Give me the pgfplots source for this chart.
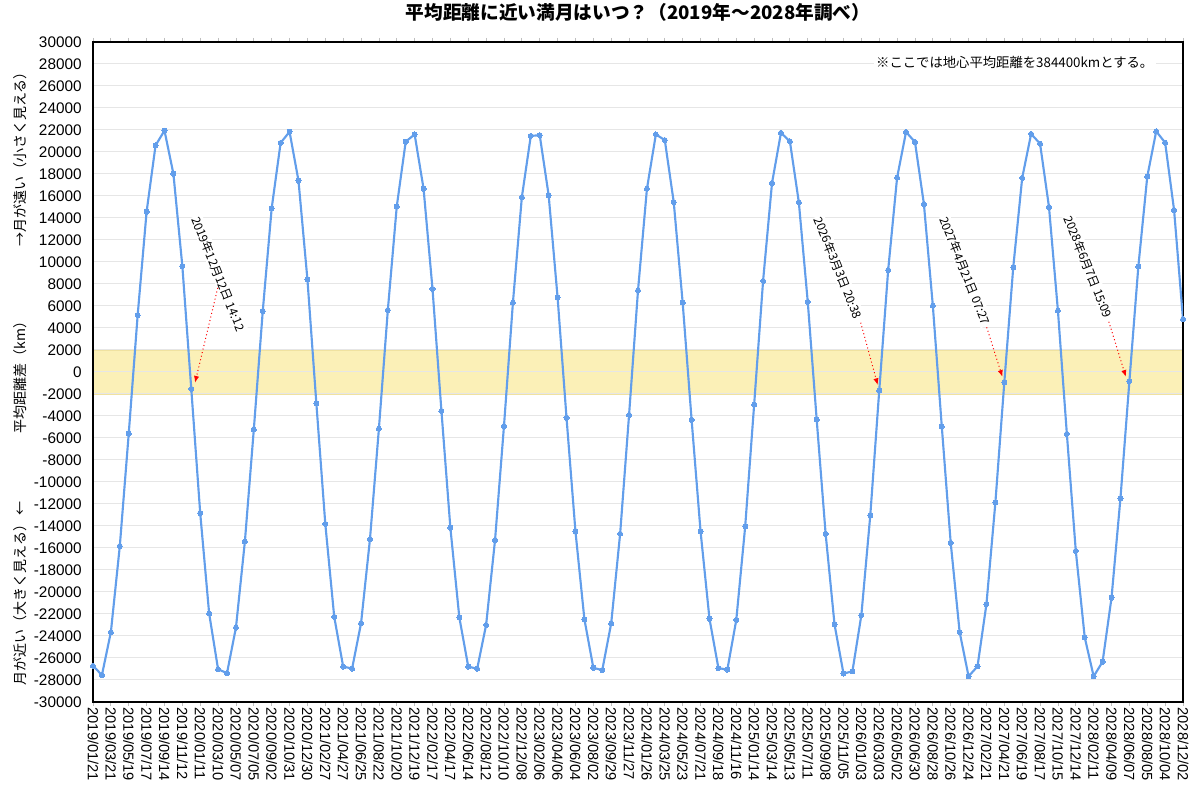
\documentclass[border=0pt]{standalone}
\usepackage{fontspec}
\setmainfont{Liberation Sans}
\newfontfamily\cjk{Noto Sans CJK JP}
\usepackage{pgfplots}
\pgfplotsset{compat=1.18}
\usetikzlibrary{arrows.meta}
\definecolor{moonblue}{RGB}{98,158,235}
\definecolor{bandyellow}{RGB}{251,240,183}
\definecolor{bandedge}{RGB}{240,226,160}
\definecolor{gridgray}{RGB}{230,230,230}

% full moons 2019/01/21 .. 2028/12/02, difference from 384400 km (km)
\pgfplotstableread{
i  d
0   -26710
1   -27550
2   -23650
3   -15830
4   -5600
5   5180
6   14570
7   20590
8   21950
9   18020
10  9630
11  -1530
12  -12830
13  -21950
14  -27030
15  -27370
16  -23230
17  -15410
18  -5220
19  5530
20  14890
21  20830
22  21840
23  17390
24  8420
25  -2850
26  -13810
27  -22260
28  -26780
29  -26960
30  -22850
31  -15200
32  -5150
33  5630
34  15060
35  20940
36  21600
37  16660
38  7550
39  -3550
40  -14160
41  -22300
42  -26780
43  -26980
44  -22990
45  -15270
46  -4900
47  6300
48  15900
49  21460
50  21530
51  16070
52  6780
53  -4170
54  -14500
55  -22470
56  -26890
57  -27100
58  -22850
59  -14710
60  -3900
61  7410
62  16660
63  21600
64  21080
65  15440
66  6300
67  -4350
68  -14470
69  -22430
70  -26920
71  -27060
72  -22540
73  -14020
74  -2960
75  8280
76  17180
77  21740
78  20970
79  15440
80  6380
81  -4330
82  -14710
83  -22970
84  -27420
85  -27210
86  -22100
87  -13020
88  -1700
89  9270
90  17670
91  21820
92  20910
93  15270
94  6030
95  -4940
96  -15530
97  -23640
98  -27670
99  -26760
100 -21100
101 -11870
102 -940
103 9520
104 17640
105 21640
106 20760
107 15000
108 5580
109 -5630
110 -16260
111 -24120
112 -27670
113 -26340
114 -20520
115 -11470
116 -830
117 9580
118 17760
119 21880
120 20850
121 14730
122 4790
}\moondata

\begin{document}
\begin{tikzpicture}
\begin{axis}[
  name=ax,
  set layers,
  scale only axis,
  width=817.5pt, height=495pt,
  xmin=0, xmax=122,
  ymin=-30000, ymax=30000,
  ytick={-30000,-28000,...,30000},
  scaled y ticks=false,
  /pgf/number format/1000 sep={},
  /pgf/number format/assume math mode=true,
  ymajorgrids,
  major grid style={gridgray, line width=0.75pt},
  ytick style={draw=none},
  xtick={0,2,...,122},
  xticklabels={2019/01/21,2019/03/21,2019/05/19,2019/07/17,2019/09/14,2019/11/12,
    2020/01/11,2020/03/10,2020/05/07,2020/07/05,2020/09/02,2020/10/31,2020/12/30,
    2021/02/27,2021/04/27,2021/06/25,2021/08/22,2021/10/20,2021/12/19,
    2022/02/17,2022/04/17,2022/06/14,2022/08/12,2022/10/10,2022/12/08,
    2023/02/06,2023/04/06,2023/06/04,2023/08/02,2023/09/29,2023/11/27,
    2024/01/26,2024/03/25,2024/05/23,2024/07/21,2024/09/18,2024/11/16,
    2025/01/14,2025/03/14,2025/05/13,2025/07/11,2025/09/08,2025/11/05,
    2026/01/03,2026/03/03,2026/05/02,2026/06/30,2026/08/28,2026/10/26,2026/12/24,
    2027/02/21,2027/04/21,2027/06/19,2027/08/17,2027/10/15,2027/12/14,
    2028/02/11,2028/04/09,2028/06/07,2028/08/05,2028/10/04,2028/12/02},
  xtick style={black!25, line width=0.6pt},
  tick align=outside,
  major tick length=3pt,
  xticklabel style={rotate=-90, anchor=west, inner sep=1pt,
    font=\fontsize{11}{11}\selectfont},
  yticklabel style={font=\fontsize{11.5}{11.5}\selectfont, xshift=-2pt},
  axis line style={black, line width=1pt},
  title={\cjk\bfseries 平均距離に近い満月はいつ？（2019年〜2028年調べ）},
  title style={at={(0.5,1)}, anchor=south, inner sep=0pt, yshift=9pt,
    font=\fontsize{14}{14}\selectfont},
  ylabel={\makebox[465pt]{月が近い（大きく見える）\,←\hfill 平均距離差（km）\hfill →月が遠い（小さく見える）}},
  ylabel style={at={(axis description cs:-0.067,0.495)}, anchor=center,
    font=\cjk\fontsize{10.5}{10.5}\selectfont},
]
  % band of +-2000 km round the mean distance
  \addplot[draw=bandedge, line width=0.5pt, fill=bandyellow, on layer=axis background, forget plot]
    coordinates {(0,-2000) (122,-2000) (122,2000) (0,2000)} -- cycle;

  \addplot[moonblue, line width=1.6pt, mark=*, mark size=1.9pt,
    mark options={fill=moonblue, draw=moonblue, line width=0pt}]
    table[x=i, y=d] {\moondata};

  % callouts
  \tikzset{callout/.style={rotate=-68, fill=white, inner sep=1pt,
      font=\cjk\fontsize{9}{9}\selectfont},
    calloutarrow/.style={red, dotted, line width=0.75pt, -{Latex[length=5pt,width=4pt]}}}
  \node[callout] at (axis cs:14.05,8910) {2019年12月12日 14:12};
  \draw[calloutarrow] (axis cs:13.96,7640) -- (axis cs:11.42,-970);
  \node[callout] at (axis cs:83.4,9450) {2026年3月3日 20:38};
  \draw[calloutarrow] (axis cs:85.93,4480) -- (axis cs:87.83,-1180);
  \node[callout] at (axis cs:97.6,9190) {2027年4月21日 07:27};
  \draw[calloutarrow] (axis cs:100.03,4060) -- (axis cs:101.78,-430);
  \node[callout] at (axis cs:111.4,9540) {2028年6月7日 15:09};
  \draw[calloutarrow] (axis cs:113.7,4570) -- (axis cs:115.6,-430);

  \node[anchor=east, fill=white, inner sep=2pt, font=\cjk\fontsize{10}{10}\selectfont]
    at (axis cs:119.0,28100) {※ここでは地心平均距離を384400kmとする。};
\end{axis}
\pgfresetboundingbox
\path[use as bounding box] ([shift={(-69.75pt,-73.5pt)}]ax.south west)
  rectangle ([shift={(12.75pt,31.5pt)}]ax.north east);
\end{tikzpicture}
\end{document}
